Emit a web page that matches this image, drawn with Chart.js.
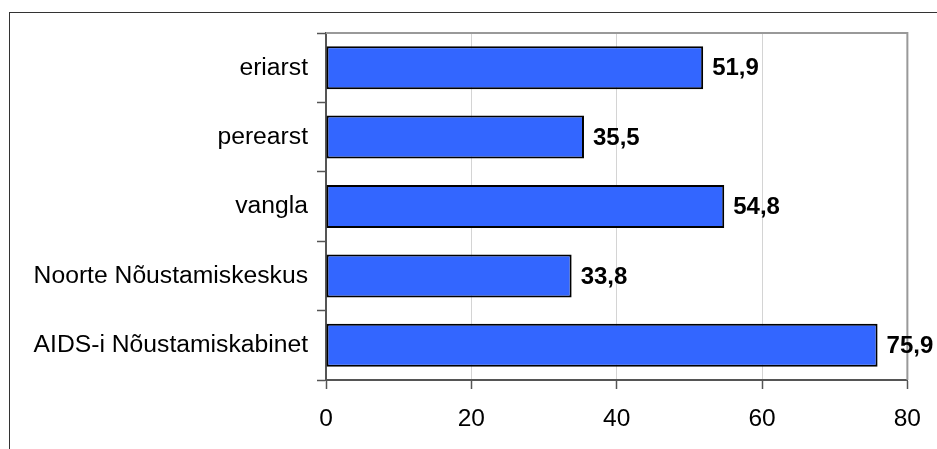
<!DOCTYPE html>
<html>
<head>
<meta charset="utf-8">
<script src="https://cdn.jsdelivr.net/npm/chart.js@4/dist/chart.umd.min.js"></script>
<style>
  html, body { margin: 0; padding: 0; background: #fff; overflow: hidden; }
  #wrap { position: relative; width: 937px; height: 449px; }
  #frame { position: absolute; left: 9px; top: 12px; width: 960px; height: 480px;
           border-top: 1.5px solid #333; border-left: 1.5px solid #333; }
  canvas { position: absolute; left: 0; top: 0; }
</style>
</head>
<body>
<div id="wrap">
  <div id="frame"></div>
  <canvas id="myChart" width="937" height="449"></canvas>
</div>
<script>
// data
const categories = ['eriarst', 'perearst', 'vangla', 'Noorte Nõustamiskeskus', 'AIDS-i Nõustamiskabinet'];
const values = [51.9, 35.5, 54.8, 33.8, 75.9];
const xTicks = [0, 20, 40, 60, 80];

const font = "'Liberation Sans', Arial, sans-serif";

// grey frame round the plot area (top and right show)
const plotFrame = {
    id: 'plotFrame',
    beforeDatasetsDraw(chart) {
        const a = chart.chartArea;
        const ctx = chart.ctx;
        ctx.save();
        ctx.strokeStyle = '#999999';
        ctx.lineWidth = 2;
        ctx.beginPath();
        ctx.moveTo(a.left, a.top);
        ctx.lineTo(a.right, a.top);
        ctx.lineTo(a.right, a.bottom);
        ctx.stroke();
        ctx.restore();
    }
};

// value labels at the end of each bar
const valueLabels = {
    id: 'valueLabels',
    afterDatasetsDraw(chart) {
        const ctx = chart.ctx;
        const meta = chart.getDatasetMeta(0);
        ctx.save();
        ctx.font = 'bold 24px ' + font;
        ctx.fillStyle = '#000';
        ctx.textAlign = 'left';
        ctx.textBaseline = 'middle';
        meta.data.forEach(function (bar, i) {
            const txt = values[i].toFixed(1).replace('.', ',');
            ctx.fillText(txt, bar.x + 9, bar.y + 1);
        });
        ctx.restore();
    }
};

function start() {
    const ctx = document.getElementById('myChart').getContext('2d');
    new Chart(ctx, dataBar());
}

function dataBar() {
    return {
        type: 'bar',
        data: {
            labels: categories,
            datasets: [{
                data: values,
                backgroundColor: '#3366FF',
                borderColor: '#000000',
                borderWidth: 2,
                borderSkipped: false,
                categoryPercentage: 1,
                barPercentage: 0.62
            }]
        },
        plugins: [plotFrame, valueLabels],
        options: {
            indexAxis: 'y',
            responsive: false,
            animation: false,
            devicePixelRatio: 1,
            layout: { padding: { top: 33, right: 26, left: 0, bottom: 0 } },
            plugins: {
                legend: { display: false },
                tooltip: { enabled: false }
            },
            scales: {
                x: {
                    min: 0,
                    max: 80,
                    afterBuildTicks(scale) {
                        scale.ticks = xTicks.map(function (v) { return { value: v }; });
                    },
                    afterFit(scale) { scale.height = 69; },
                    grid: {
                        color: '#d4d4d4',
                        lineWidth: 1,
                        tickColor: '#555555',
                        tickLength: 9,
                        tickWidth: 1.5
                    },
                    border: { color: '#555555', width: 2 },
                    ticks: {
                        color: '#000',
                        padding: 16,
                        maxRotation: 0,
                        font: { family: font, size: 24.5 }
                    }
                },
                y: {
                    afterFit(scale) { scale.width = 326; },
                    grid: {
                        drawOnChartArea: false,
                        tickColor: '#555555',
                        tickLength: 9,
                        tickWidth: 1.5
                    },
                    border: { color: '#555555', width: 2 },
                    ticks: {
                        color: '#000',
                        padding: 9,
                        font: { family: font, size: 24.7 }
                    }
                }
            }
        }
    };
}

start();
</script>
</body>
</html>
